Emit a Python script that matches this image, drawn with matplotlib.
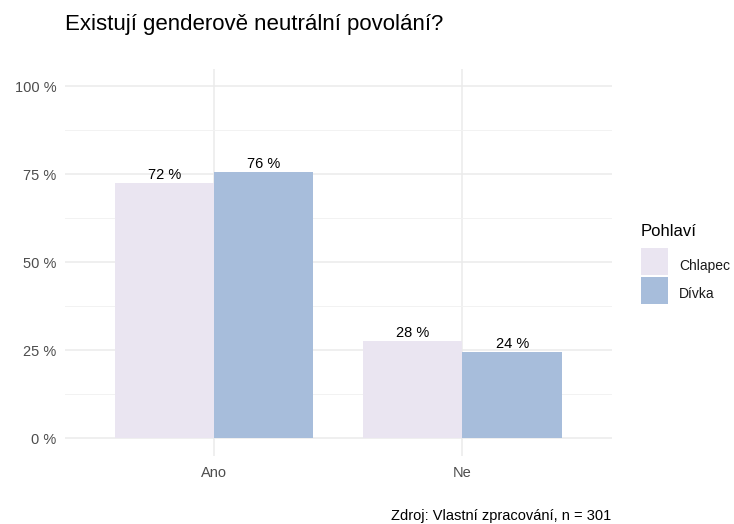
import matplotlib
matplotlib.use("Agg")
import matplotlib.pyplot as plt
from matplotlib.patches import Rectangle
import numpy as np

plt.rcParams['font.family'] = ['Liberation Sans', 'DejaVu Sans']

odpovedi = ['Ano', 'Ne']
pohlavi = ['Chlapec', 'Dívka']
podily = {
    'Chlapec': [72.4, 27.6],
    'Dívka': [75.6, 24.4],
}
barvy = {'Chlapec': '#EAE5F1', 'Dívka': '#A7BDDB'}

W, H = 734, 524


def fx(px):
    return px / W


def fy(py):
    return 1 - py / H


fig = plt.figure(figsize=(7.34, 5.24), dpi=100)
ax = fig.add_axes([fx(65), fy(456), (611.5 - 65) / W, (456 - 68.5) / H])

x = np.arange(len(odpovedi)) + 1
sirka = 0.4
for i, p in enumerate(pohlavi):
    pos = x + (i - 0.5) * sirka
    ax.bar(pos, podily[p], width=sirka, color=barvy[p], label=p, zorder=2)
    for xx, v in zip(pos, podily[p]):
        ax.annotate(f'{v:.0f} %', (xx, v), xytext=(0, 3), textcoords='offset points',
                    ha='center', va='baseline', fontsize=10.5, color='black')

ax.set_xlim(0.4, 2.6)
ax.set_ylim(-5, 105)
ax.set_xticks(x)
ax.set_xticklabels(odpovedi)
ax.set_yticks([0, 25, 50, 75, 100])
ax.set_yticklabels([f'{t} %' for t in [0, 25, 50, 75, 100]])
ax.set_yticks([12.5, 37.5, 62.5, 87.5], minor=True)
ax.tick_params(axis='both', which='both', length=0, labelsize=10.5, labelcolor='#4D4D4D')
ax.tick_params(axis='x', pad=7.5)
ax.tick_params(axis='y', pad=6)

ax.grid(True, which='major', color='#EBEBEB', linewidth=1.1, zorder=0)
ax.grid(True, which='minor', axis='y', color='#F2F2F2', linewidth=0.7, zorder=0)
ax.set_axisbelow(True)
for s in ax.spines.values():
    s.set_visible(False)

fig.text(fx(65), fy(30), 'Existují genderově neutrální povolání?',
         fontsize=16, ha='left', va='baseline', color='black')
fig.text(fx(611), fy(520), 'Zdroj: Vlastní zpracování, n = 301',
         fontsize=10.5, ha='right', va='baseline', color='black')

# legenda
fig.text(fx(641), fy(236.5), 'Pohlaví', fontsize=12, ha='left', va='baseline', color='black')
for i, p in enumerate(pohlavi):
    top = 248 + i * 28.5
    fig.add_artist(Rectangle((fx(641), fy(top + 27)), 27 / W, 27 / H,
                             transform=fig.transFigure, facecolor=barvy[p], edgecolor='none'))
    fig.text(fx(679), fy(top + 22), p, fontsize=10, ha='left', va='baseline', color='#1A1A1A')

fig.savefig('out.png', dpi=100)
